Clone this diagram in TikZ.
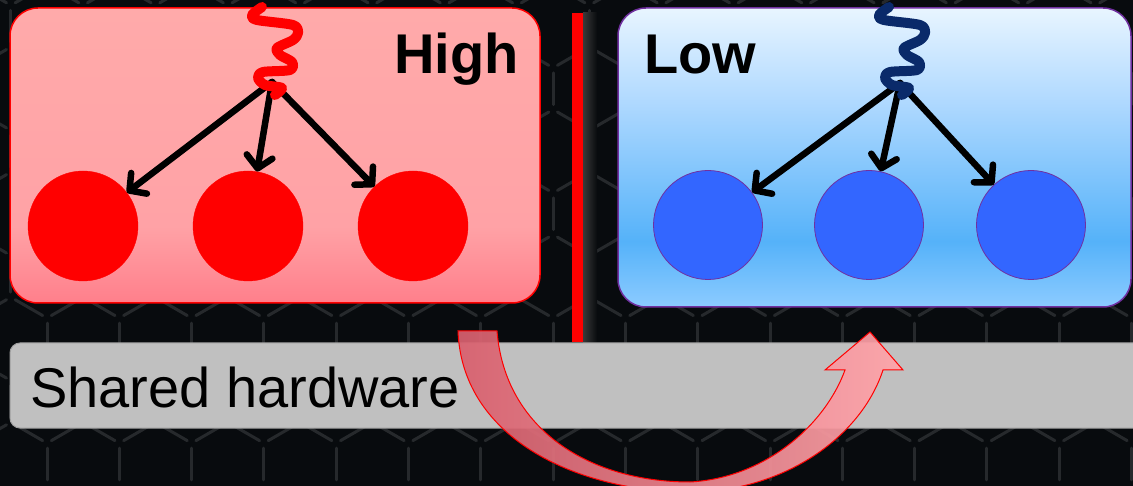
\documentclass[tikz,border=0pt]{standalone}
\usepackage{fontspec}
\setmainfont{Liberation Sans}
\usepackage{tikz}
\usetikzlibrary{arrows.meta,shapes}
\usepackage{xcolor}
\definecolor{bgcol}{HTML}{080B0E}
\definecolor{hexcol}{HTML}{26292C}
\definecolor{htop}{HTML}{FFAAAA}
\definecolor{hmid}{HTML}{FFA2A6}
\definecolor{hbot}{HTML}{FF7F8B}
\definecolor{ltop}{HTML}{E8F5FF}
\definecolor{lup}{HTML}{B2DAFF}
\definecolor{lmid}{HTML}{55B2F9}
\definecolor{lbot}{HTML}{8CCBFF}
\definecolor{blob}{HTML}{3366FF}
\definecolor{lowedge}{HTML}{7030A0}
\definecolor{navy}{HTML}{0A2A6A}
\definecolor{hwgray}{HTML}{C0C0C0}
\definecolor{bendL}{HTML}{D8606E}
\definecolor{bendR}{HTML}{FFA4AA}
\pgfdeclareverticalshading{highshade}{100bp}{color(0bp)=(hbot); color(25bp)=(hbot); color(38bp)=(hmid); color(75bp)=(htop); color(100bp)=(htop)}
\pgfdeclareverticalshading{lowshade}{100bp}{color(0bp)=(lbot); color(25bp)=(lbot); color(36bp)=(lmid); color(60bp)=(lup); color(75bp)=(ltop); color(100bp)=(ltop)}

\begin{document}
\begin{tikzpicture}[x=1pt, y=-1pt, line cap=round,
  hexline/.style={hexcol, line width=3pt, shorten <=5pt, shorten >=5pt},
  high node/.style={circle, fill=red, draw=red, minimum size=110pt, inner sep=0},
  low node/.style={circle, fill=blob, draw=lowedge, line width=0.8pt, minimum size=109pt, inner sep=0},
  arr/.style={-{Straight Barb[length=12pt,width=26pt,round]}, line width=6.5pt, black},
  wire/.style={line width=10pt, line join=round},
  label/.style={anchor=base west, inner sep=0, font=\fontsize{56}{60}\selectfont},
  bend arrow/.style={draw=red, line width=1pt, left color=bendL, right color=bendR, fill opacity=0.93}]
\useasboundingbox (0,0) rectangle (1133,486);
\clip (0,0) rectangle (1133,486);
\fill[bgcol] (0,0) rectangle (1133,486);
\foreach \k in {-1,...,16}{
  \foreach \m in {0,...,4}{
    \pgfmathsetmacro\hx{47+72.3*\k}
    \pgfmathsetmacro\hy{464-125.1*\m}
    \draw[hexline] (\hx,\hy-20.85) -- (\hx,\hy+20.85);
    \draw[hexline] (\hx,\hy+20.85) -- (\hx-36.15,\hy+41.7);
    \draw[hexline] (\hx,\hy+20.85) -- (\hx+36.15,\hy+41.7);
    \draw[hexline] (\hx+36.15,\hy+41.7) -- (\hx+36.15,\hy+83.4);
    \draw[hexline] (\hx+36.15,\hy+83.4) -- (\hx,\hy+104.25);
    \draw[hexline] (\hx+36.15,\hy+83.4) -- (\hx+72.3,\hy+104.25);
  }}
\path[shading=highshade, draw=red, line width=1.5pt, rounded corners=28pt] (10,8) rectangle (540,303);
\path[shading=lowshade, draw=lowedge, line width=1.5pt, rounded corners=28pt] (618,8) rectangle (1131,307);
\fill[red] (572,13) rectangle (583,342);
\shade[left color=gray!45!black, right color=bgcol] (583,13) rectangle (597,346);
\node[label, font=\fontsize{56}{60}\selectfont\bfseries] (9) at (394,74) {High};
\node[label, font=\fontsize{56}{60}\selectfont\bfseries] (10) at (644,74) {Low};
\node[high node] (1) at (83,226) {};
\node[high node] (2) at (248,226) {};
\node[high node] (3) at (413,226) {};
\node[low node] (4) at (708,225) {};
\node[low node] (5) at (869,225) {};
\node[low node] (6) at (1031,225) {};
\coordinate (7) at (272,82);
\coordinate (8) at (900,83);
\draw[arr] (7) -- (1);
\draw[arr] (7) -- (2);
\draw[arr] (7) -- (3);
\draw[arr] (8) -- (4);
\draw[arr] (8) -- (5);
\draw[arr] (8) -- (6);
\draw[wire, red] plot[smooth] coordinates {(262,7) (252,15) (257,20) (293,25) (298,33) (293,40) (277,48) (280,55) (292,62) (290,70) (263,72) (258,78) (265,85) (282,88) (275,95)};
\draw[wire, navy, shift={(627,0)}] plot[smooth] coordinates {(262,7) (252,15) (257,20) (293,25) (298,33) (293,40) (277,48) (280,55) (292,62) (290,70) (263,72) (258,78) (265,85) (282,88) (275,95)};
\draw[fill=hwgray, draw=gray!75, line width=1pt, rounded corners=10pt] (10,343) rectangle (1150,428);
\node[label] (11) at (30,407) {Shared hardware};
\path[bend arrow] (458,331) .. controls (462,440) and (580,492) .. (690,492) .. controls (780,492) and (860,440) .. (883,370) -- (903,370) -- (870,332) -- (825,370) -- (845,370) .. controls (825,425) and (765,478) .. (690,482) .. controls (590,482) and (505,430) .. (497,331) -- cycle;
\end{tikzpicture}
\end{document}
